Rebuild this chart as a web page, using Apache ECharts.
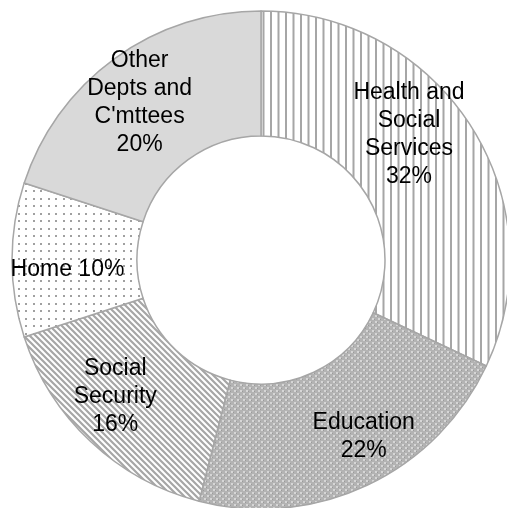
<!DOCTYPE html>
<html>
<head>
<meta charset="utf-8">
<script src="https://cdn.jsdelivr.net/npm/echarts@6/dist/echarts.min.js"></script>
<style>
html,body{margin:0;padding:0;background:#fff;}
#main{width:507px;height:508px;}
</style>
</head>
<body>
<div id="main"></div>
<script>
// 数据
var categories = ['Health and\nSocial\nServices', 'Education', 'Social\nSecurity', 'Home', 'Other\nDepts and\nC\'mttees'];
var values = [32, 22, 16, 10, 20];

// 图案填充
function makeTile(w, h, draw){
	var c = document.createElement('canvas');
	c.width = w; c.height = h;
	var ctx = c.getContext('2d');
	draw(ctx);
	return c;
}
var lineGray = '#a6a6a6';
var vertical = makeTile(15, 15, function(ctx){
	ctx.fillStyle = '#fff'; ctx.fillRect(0,0,15,15);
	ctx.fillStyle = lineGray;
	ctx.fillRect(0,0,2,15);
	ctx.fillRect(7.5,0,2,15);
});
var cross = makeTile(6, 6, function(ctx){
	ctx.fillStyle = '#b3b3b3'; ctx.fillRect(0,0,6,6);
	ctx.fillStyle = '#d6d6d6';
	ctx.fillRect(0,0,2,2);
	ctx.fillRect(3,3,2,2);
	ctx.fillStyle = '#9a9a9a';
	ctx.fillRect(2,1,1,1);
	ctx.fillRect(5,4,1,1);
});
var diagonal = makeTile(6, 6, function(ctx){
	ctx.fillStyle = '#fff'; ctx.fillRect(0,0,6,6);
	ctx.strokeStyle = lineGray;
	ctx.lineWidth = 2.2;
	ctx.beginPath();
	ctx.moveTo(-1,-1); ctx.lineTo(7,7);
	ctx.moveTo(-4,2); ctx.lineTo(4,10);
	ctx.moveTo(2,-4); ctx.lineTo(10,4);
	ctx.stroke();
});
var dots = makeTile(15, 15, function(ctx){
	ctx.fillStyle = '#fff'; ctx.fillRect(0,0,15,15);
	ctx.fillStyle = '#a0a0a0';
	ctx.fillRect(3,3,2,2);
	ctx.fillRect(10,3,2,2);
	ctx.fillRect(3,10,2,2);
	ctx.fillRect(10,10,2,2);
});
var fills = [
	{image: vertical, repeat: 'repeat'},
	{image: cross, repeat: 'repeat'},
	{image: diagonal, repeat: 'repeat'},
	{image: dots, repeat: 'repeat'},
	'#d9d9d9'
];
// 标签偏移（与 Excel 的标签位置对齐）
var labelOffsets = [[-12,-24],[22,5],[-16,-1],[-4,10],[-10,-4]];

var chart = echarts.init(document.getElementById('main'));
var seriesData = [];
for(var i = 0;i<values.length;i++){
	seriesData.push({
		name: categories[i],
		value: values[i],
		itemStyle: {color: fills[i]},
		label: {offset: labelOffsets[i]}
	});
}

var option = {
	animation: false,
	series: [{
		type: 'pie',
		center: [261, 260],
		radius: [124, 249],
		startAngle: 90,
		clockwise: true,
		percentPrecision: 0,
		avoidLabelOverlap: false,
		emphasis: {disabled: true},
		itemStyle: {borderColor: '#a6a6a6', borderWidth: 1.5},
		label: {
			show: true,
			position: 'inside',
			color: '#000',
			fontFamily: 'Liberation Sans, Arial, sans-serif',
			fontSize: 23,
			lineHeight: 28,
			align: 'center',
			formatter: function(p){
				var sep = p.dataIndex === 3 ? ' ' : '\n';
				return p.name + sep + p.percent + '%';
			}
		},
		labelLine: {show: false},
		data: seriesData
	}]
};
chart.setOption(option);
</script>
</body>
</html>
